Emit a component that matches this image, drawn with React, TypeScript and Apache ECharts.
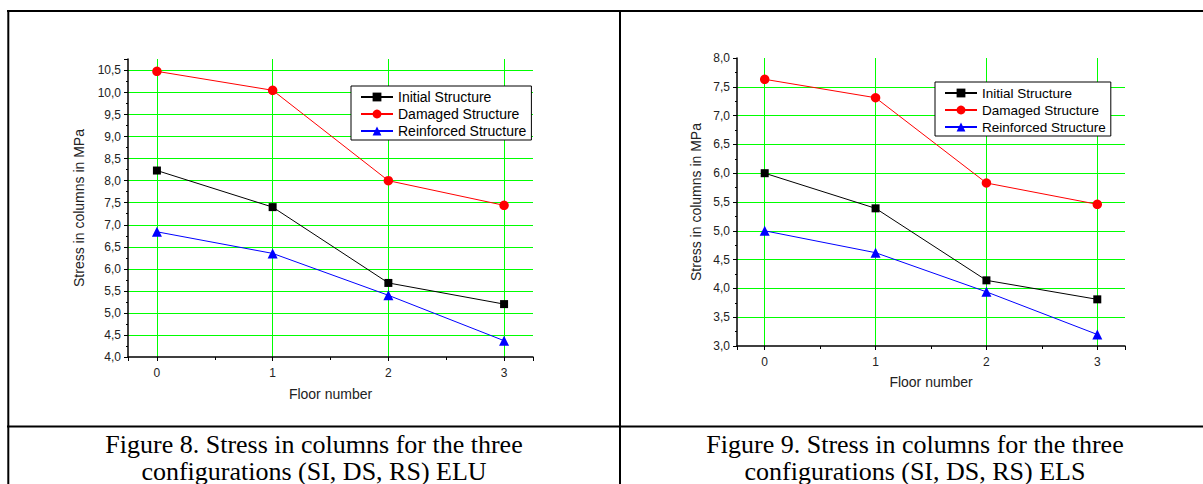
import React, { useEffect, useRef } from 'react';
import * as echarts from 'echarts';

const floors = [0, 1, 2, 3];
const seriesNames = ['Initial Structure', 'Damaged Structure', 'Reinforced Structure'];
const eluInitial = [8.23, 7.4, 5.68, 5.2];
const eluDamaged = [10.48, 10.05, 8.0, 7.44];
const eluReinforced = [6.84, 6.35, 5.4, 4.37];
const elsInitial = [6.0, 5.39, 4.14, 3.81];
const elsDamaged = [7.63, 7.31, 5.83, 5.46];
const elsReinforced = [5.0, 4.62, 3.94, 3.2];
const xAxisTitle = 'Floor number';
const yAxisTitle = 'Stress in columns in MPa';
const captionElu = ['Figure 8. Stress in columns for the three', 'configurations (SI, DS, RS) ELU'];
const captionEls = ['Figure 9. Stress in columns for the three', 'configurations (SI, DS, RS) ELS'];

const SANS = '"Liberation Sans", Arial, sans-serif';
const SERIF = '"Liberation Serif", "Times New Roman", serif';
const GRID_GREEN = '#00ff00';

function xAxisFor(gridIndex: number, nameGap: number) {
  return {
    type: 'value',
    gridIndex,
    min: -0.25,
    max: 3.25,
    splitNumber: 3,
    name: xAxisTitle,
    nameLocation: 'middle',
    nameGap,
    nameTextStyle: { fontSize: 14, color: '#222', fontFamily: SANS },
    axisLine: { show: true, onZero: false, lineStyle: { color: '#000', width: 1.5 } },
    axisTick: { show: true, length: 4, lineStyle: { color: '#000' } },
    minorTick: { show: true, splitNumber: 2, length: 3, lineStyle: { color: '#000' } },
    axisLabel: {
      fontSize: 12,
      color: '#222',
      fontFamily: SANS,
      margin: 10,
      formatter: (v: number) => (Math.abs(v - Math.round(v)) < 1e-6 ? String(Math.round(v)) : ''),
    },
    splitLine: { show: true, showMinLine: false, showMaxLine: false, lineStyle: { color: GRID_GREEN, width: 1 } },
  };
}

function yAxisFor(gridIndex: number, min: number, max: number, nameGap: number) {
  return {
    type: 'value',
    gridIndex,
    min,
    max,
    interval: 0.5,
    name: yAxisTitle,
    nameLocation: 'middle',
    nameGap,
    nameTextStyle: { fontSize: 14, color: '#222', fontFamily: SANS },
    axisLine: { show: true, onZero: false, lineStyle: { color: '#000', width: 1.5 } },
    axisTick: { show: true, length: 4, lineStyle: { color: '#000' } },
    minorTick: { show: true, splitNumber: 2, length: 2, lineStyle: { color: '#000' } },
    axisLabel: {
      fontSize: 12,
      color: '#222',
      fontFamily: SANS,
      margin: 7,
      formatter: (v: number) =>
        Math.abs(v * 2 - Math.round(v * 2)) < 1e-6 ? v.toFixed(1).replace('.', ',') : '',
    },
    splitLine: { show: true, showMinLine: false, showMaxLine: false, lineStyle: { color: GRID_GREEN, width: 1 } },
  };
}

function lineSeries(name: string, values: number[], idx: number, symbol: string, size: number, color: string) {
  return {
    type: 'line',
    name,
    xAxisIndex: idx,
    yAxisIndex: idx,
    data: floors.map((f, i) => [f, values[i]]),
    symbol,
    symbolSize: size,
    showAllSymbol: true,
    itemStyle: { color },
    lineStyle: { color, width: 1 },
    emphasis: { disabled: true },
  };
}

function legendFor(left: number, top: number, fontSize: number) {
  return {
    data: seriesNames,
    orient: 'vertical',
    left,
    top,
    itemWidth: 32,
    itemHeight: 11,
    itemGap: 3,
    padding: [4, 5, 2, 9],
    borderColor: '#000',
    borderWidth: 1,
    backgroundColor: '#fff',
    selectedMode: false,
    textStyle: { fontSize, color: '#000', fontFamily: SANS },
  };
}

export default function App() {
  const ref = useRef<HTMLDivElement>(null);
  useEffect(() => {
    if (!ref.current) return;
    const chart = echarts.init(ref.current, undefined, { renderer: 'svg' });
    const borderStyle = { stroke: '#000', lineWidth: 2 };
    const captionStyle = (text: string, x: number, y: number) => ({
      type: 'text',
      x,
      y,
      silent: true,
      style: {
        text,
        fill: '#000',
        fontSize: 26,
        fontFamily: SERIF,
        align: 'center',
        verticalAlign: 'middle',
      },
    });
    chart.setOption({
      animation: false,
      backgroundColor: '#fff',
      grid: [
        { left: 128, top: 59, width: 405, height: 298 },
        { left: 737, top: 58, width: 388, height: 288 },
      ],
      xAxis: [xAxisFor(0, 30), xAxisFor(1, 29)],
      yAxis: [yAxisFor(0, 4, 10.76, 42), yAxisFor(1, 3, 8, 34)],
      legend: [legendFor(351, 86, 14), legendFor(935, 82, 13.5)],
      series: [
        lineSeries(seriesNames[0], eluInitial, 0, 'rect', 8, '#000000'),
        lineSeries(seriesNames[1], eluDamaged, 0, 'circle', 9.5, '#ff0000'),
        lineSeries(seriesNames[2], eluReinforced, 0, 'triangle', 10, '#0000ff'),
        lineSeries(seriesNames[0], elsInitial, 1, 'rect', 8, '#000000'),
        lineSeries(seriesNames[1], elsDamaged, 1, 'circle', 9.5, '#ff0000'),
        lineSeries(seriesNames[2], elsReinforced, 1, 'triangle', 10, '#0000ff'),
      ],
      graphic: [
        { type: 'line', silent: true, shape: { x1: 7, y1: 11, x2: 1203, y2: 11 }, style: borderStyle },
        { type: 'line', silent: true, shape: { x1: 8.3, y1: 10, x2: 8.3, y2: 484 }, style: borderStyle },
        { type: 'line', silent: true, shape: { x1: 620, y1: 10, x2: 620, y2: 484 }, style: borderStyle },
        { type: 'line', silent: true, shape: { x1: 7, y1: 426.5, x2: 1203, y2: 426.5 }, style: borderStyle },
        captionStyle(captionElu[0], 314, 444),
        captionStyle(captionElu[1], 314, 471),
        captionStyle(captionEls[0], 915, 444),
        captionStyle(captionEls[1], 915, 471),
      ],
    });
    return () => chart.dispose();
  }, []);
  return <div ref={ref} style={{ position: 'absolute', left: 0, top: 0, width: 1203, height: 484 }} />;
}
